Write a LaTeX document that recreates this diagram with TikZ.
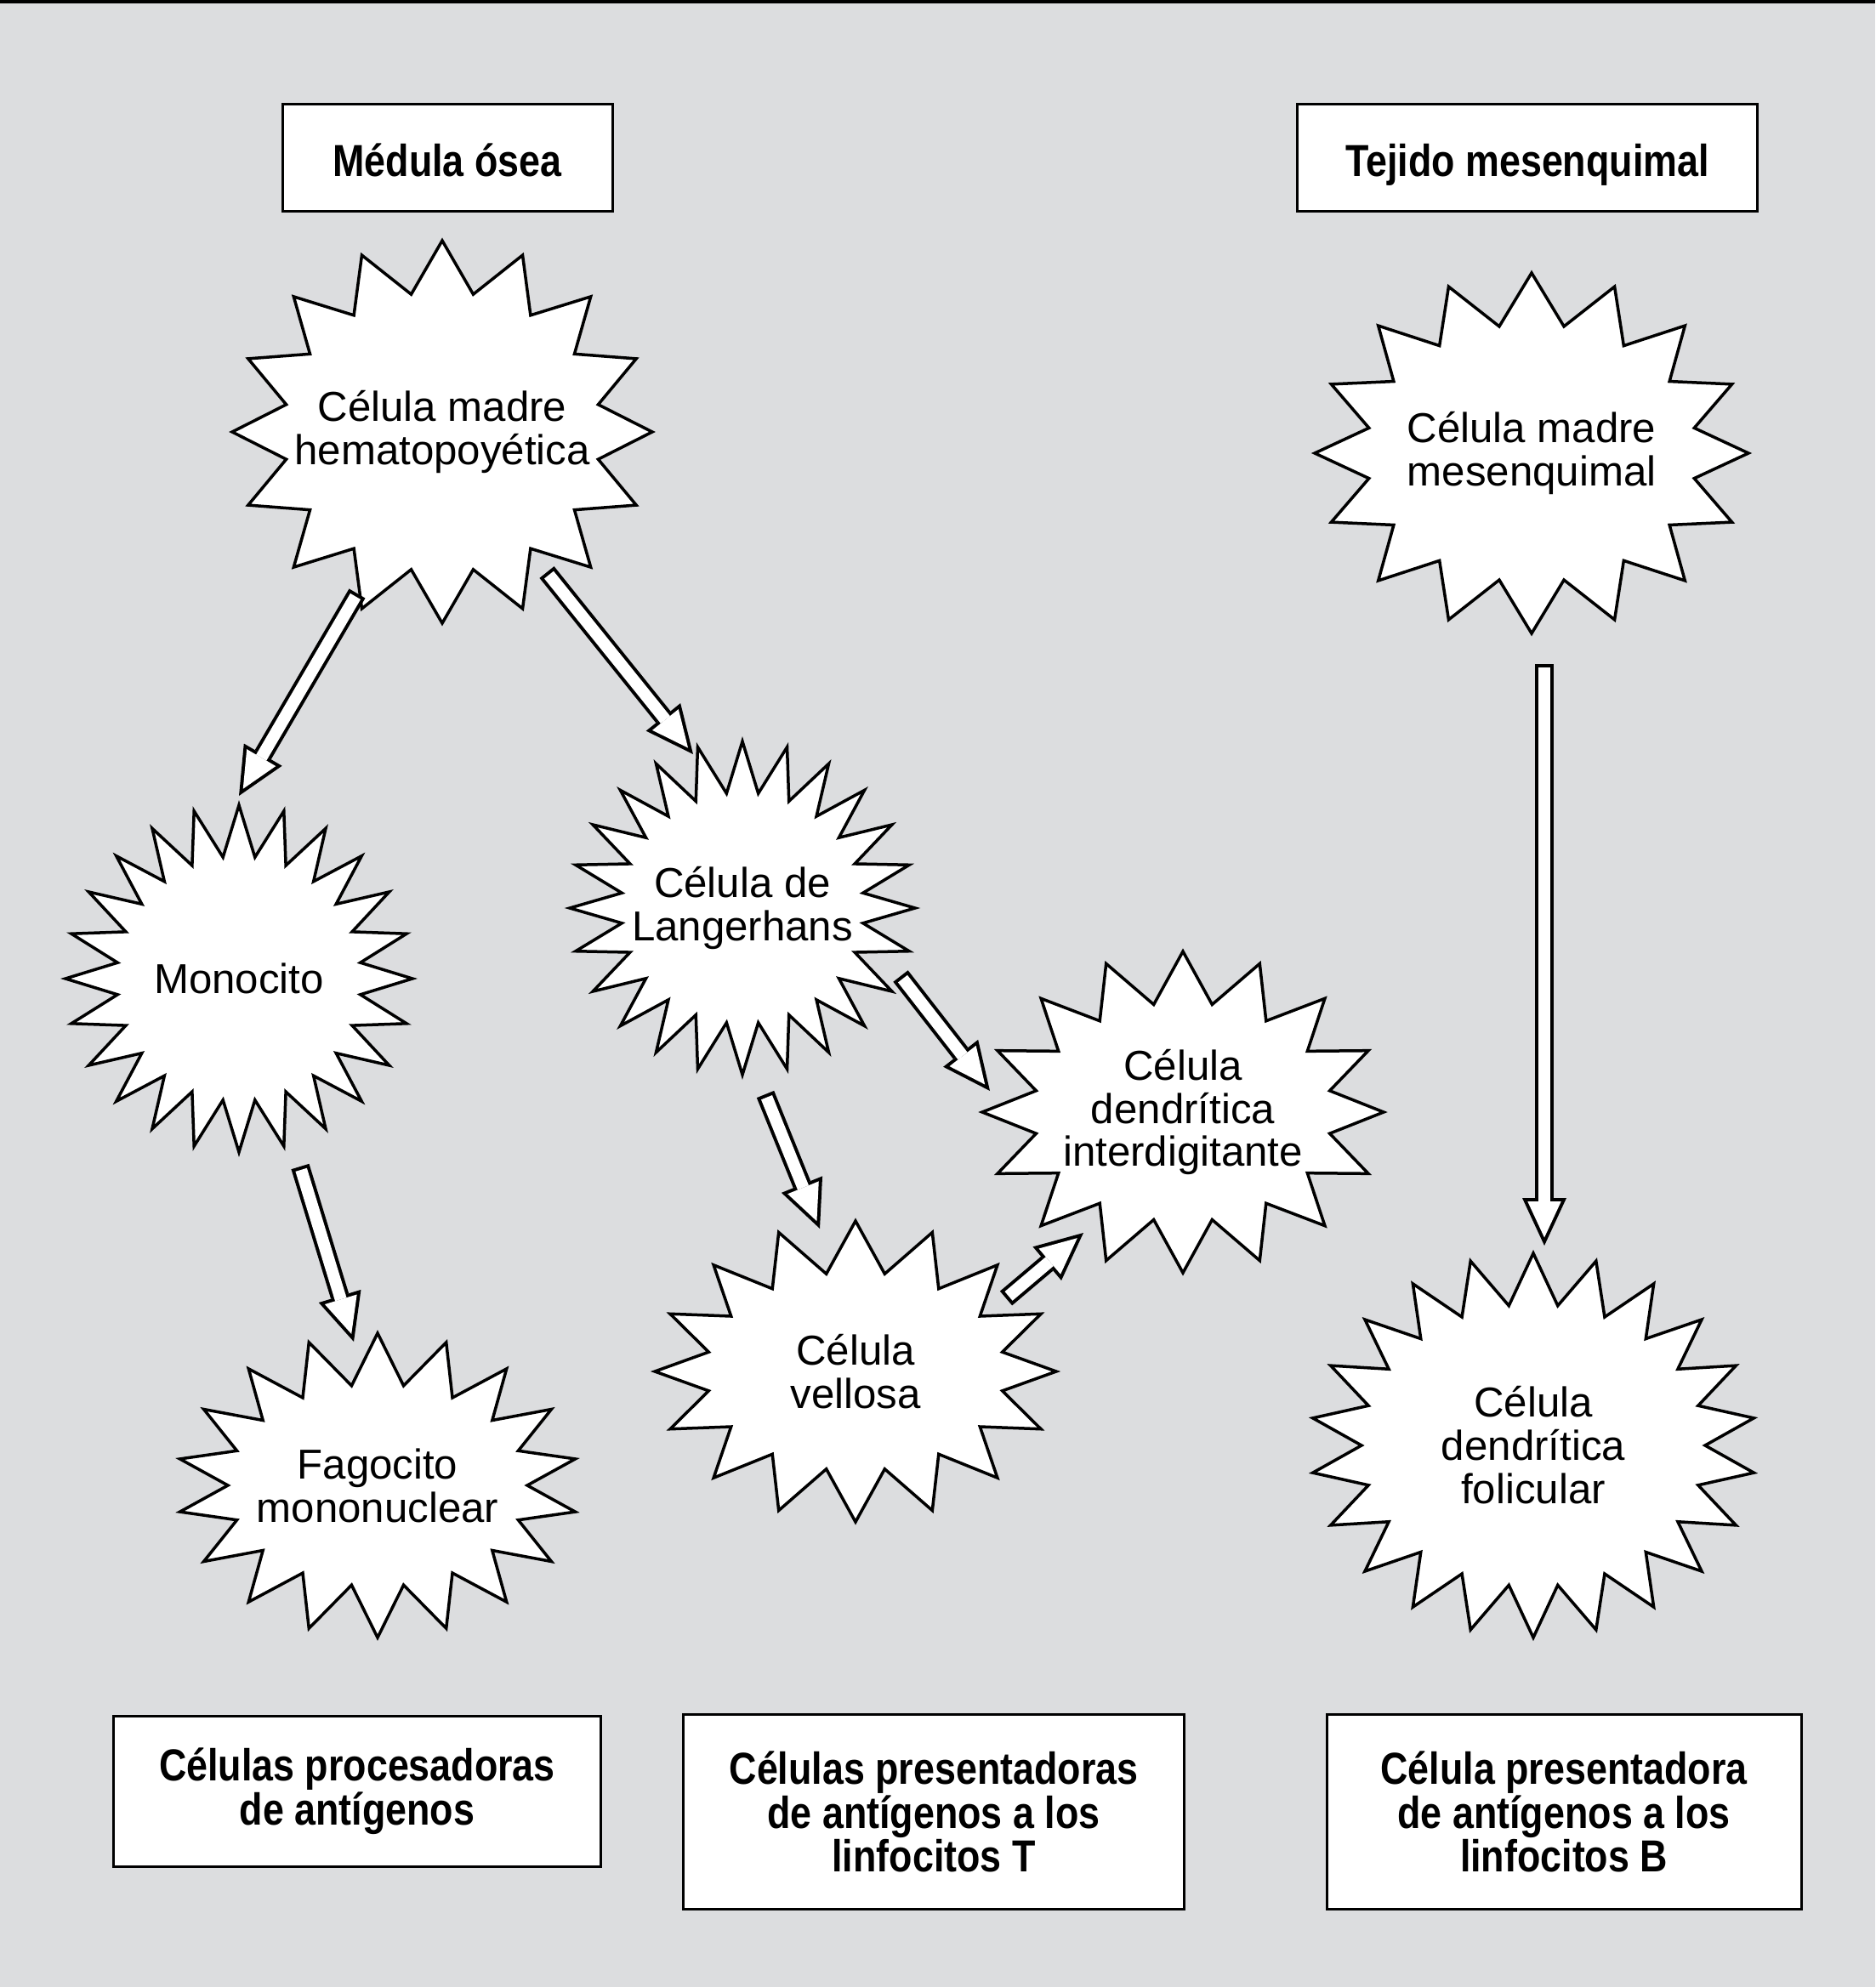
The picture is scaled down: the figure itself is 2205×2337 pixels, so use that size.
\documentclass[tikz,border=0pt]{standalone}
\usepackage{fontspec}
\setmainfont{Liberation Sans}
\newfontfamily\titlefont{Liberation Sans}[FakeStretch=0.85]
\usetikzlibrary{arrows.meta, shapes.symbols}
\definecolor{panelgray}{RGB}{220,221,223}

\begin{document}
\begin{tikzpicture}[x=0.1mm, y=-0.1mm,
    titlebox/.style={rectangle, draw=black, line width=0.3mm, fill=white, align=center, inner sep=0pt, font=\titlefont\bfseries\fontsize{15}{14.7}\selectfont},
    headbox/.style={titlebox, minimum height=12.6mm, text height=14pt, text depth=2pt},
    cell/.style={starburst, random starburst=0, draw=black, line width=0.35mm, fill=white, inner sep=0pt, starburst point height=6mm},
    celltext/.style={align=center, font=\fontsize{14}{14.5}\selectfont},
    blockarrow/.style={draw=black, line width=2.2mm, -{Triangle[length=5.6mm, width=5.2mm, line width=0pt]},
      postaction={draw=white, line width=1.4mm, shorten <=0.4mm, shorten >=0.95mm, -{Triangle[length=4.25mm, width=3.95mm, line width=0pt]}}},
  ]
  % panel
  \fill[panelgray] (0,0) rectangle (2205,2337);
  \fill[black] (0,0) rectangle (2205,4);

  % sources
  \node[headbox, minimum width=38.8mm] (medula) at (526,186) {Médula ósea};
  \node[headbox, minimum width=54.1mm] (tejido) at (1796,186) {Tejido mesenquimal};

  % cells
  \node[cell, starburst points=16, minimum width=49.4mm, minimum height=45mm,
    label={[celltext]center:Célula madre\\hematopoyética}] (hemat) at (520,508) {};
  \node[cell, starburst points=24, minimum width=40.8mm, minimum height=40.8mm,
    label={[celltext]center:Monocito}] (mono) at (281,1151) {};
  \node[cell, starburst points=24, minimum width=40.6mm, minimum height=39.2mm,
    label={[celltext]center:Célula de\\Langerhans}] (lang) at (873,1068) {};
  \node[cell, starburst points=16, minimum width=47.2mm, minimum height=37.8mm,
    label={[celltext]center:Célula\\dendrítica\\interdigitante}] (inter) at (1391,1308) {};
  \node[cell, starburst points=16, minimum width=47.2mm, minimum height=35.4mm,
    label={[celltext]center:Célula\\vellosa}] (vell) at (1006,1613) {};
  \node[cell, starburst points=18, minimum width=47.2mm, minimum height=35.8mm,
    label={[celltext]center:Fagocito\\mononuclear}] (fago) at (444,1747) {};
  \node[cell, starburst points=16, minimum width=51mm, minimum height=42.4mm,
    label={[celltext]center:Célula madre\\mesenquimal}] (mesen) at (1801,533) {};
  \node[cell, starburst points=22, minimum width=52.4mm, minimum height=45.2mm,
    label={[celltext]center:Célula\\dendrítica\\folicular}] (folic) at (1803,1700) {};

  % roles
  \node[titlebox, minimum width=57.3mm, minimum height=17.7mm] (proc) at (420,2107) {Células procesadoras\\de antígenos};
  \node[titlebox, minimum width=58.9mm, minimum height=22.9mm] (presT) at (1098,2131) {Células presentadoras\\de antígenos a los\\linfocitos T};
  \node[titlebox, minimum width=55.8mm, minimum height=22.9mm] (presB) at (1839,2131) {Célula presentadora\\de antígenos a los\\linfocitos B};

  % differentiation
  \draw[blockarrow] ([shift={(-100,190)}]hemat.center) -- ([shift={(0,-215)}]mono.center);
  \draw[blockarrow] ([shift={(123,165)}]hemat.center) -- ([shift={(-58,-181)}]lang.center);
  \draw[blockarrow] ([shift={(186,80)}]lang.center) -- ([shift={(-227,-25)}]inter.center);
  \draw[blockarrow] ([shift={(27,219)}]lang.center) -- ([shift={(-42,-168)}]vell.center);
  \draw[blockarrow] ([shift={(72,221)}]mono.center) -- ([shift={(-28,-169)}]fago.center);
  \draw[blockarrow] ([shift={(177,-86)}]vell.center) -- ([shift={(-117,142)}]inter.center);
  \draw[blockarrow] ([shift={(15,248)}]mesen.center) -- ([shift={(13,-235)}]folic.center);
\end{tikzpicture}
\end{document}
